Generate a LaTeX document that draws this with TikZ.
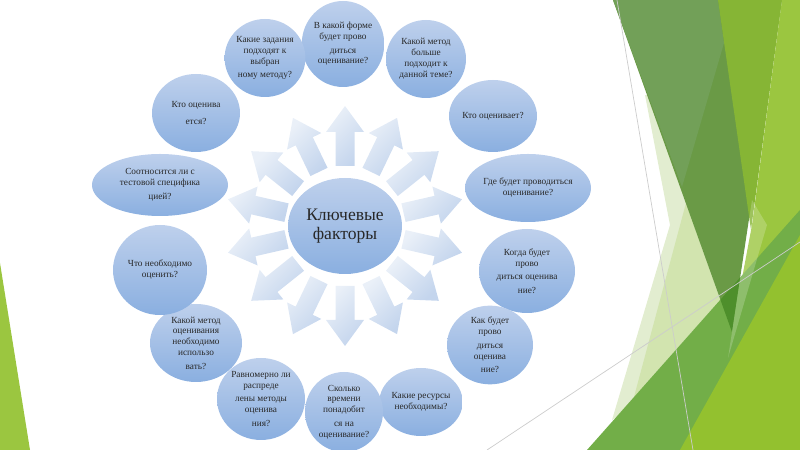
\documentclass[tikz,border=0pt]{standalone}
\usepackage{fontspec}
\setmainfont{Liberation Serif}
\usetikzlibrary{positioning,calc,shapes.geometric}

\definecolor{bubtop}{RGB}{190,208,236}
\definecolor{bubbot}{RGB}{138,175,224}
\definecolor{raytop}{RGB}{234,240,248}
\definecolor{raybot}{RGB}{196,213,237}
\definecolor{txt}{RGB}{40,40,40}
\definecolor{fpale}{RGB}{226,237,208}
\definecolor{fmid}{RGB}{210,228,175}
\definecolor{fdark}{RGB}{106,154,70}
\definecolor{fdarklt}{RGB}{114,160,88}
\definecolor{fyel}{RGB}{134,181,53}
\definecolor{flime}{RGB}{155,198,64}
\definecolor{fgreen}{RGB}{114,174,72}
\definecolor{fdeep}{RGB}{78,143,43}
\definecolor{fbright}{RGB}{147,193,47}

\begin{document}
\begin{tikzpicture}[x=0.2mm, y=-0.2mm,
  ques/.style={ellipse, inner sep=0pt, align=center, text=txt,
               top color=bubtop, bottom color=bubbot,
               font=\fontsize{5.3}{6.2}\selectfont},
  hub/.style={ellipse, inner sep=0pt, align=center, text=txt,
              top color=bubtop, bottom color=bubbot,
              minimum width=22.8mm, minimum height=19.2mm,
              font=\fontsize{10}{10.5}\selectfont},
  ray/.style={top color=raytop, bottom color=raybot, shading angle=45},
  rule/.style={gray!40, line width=0.4pt}]
\useasboundingbox (0,0) rectangle (800,450);
% background facets
\fill[fpale] (645,95) -- (670,225) -- (612,420) -- (740,330) -- (700,100) -- cycle;
\fill[fmid] (686,203) -- (720.4,299.7) -- (634,397) -- cycle;
\fill[fdark] (613,0) -- (782,0) -- (732,332) -- cycle;
\fill[fdarklt] (613,0) -- (718,0) -- (724,43) -- (682,187) -- cycle;
\fill[fyel] (718,0) -- (782,0) -- (751,230) -- cycle;
\fill[flime] (782,0) -- (800,0) -- (800,450) -- (732,332) -- (752,225) -- cycle;
\fill[fgreen] (587,450) -- (800,210) -- (800,450) -- cycle;
\fill[fdeep] (720.4,299.7) -- (740.2,277.4) -- (732,332) -- cycle;
\fill[fbright] (680,450) -- (800,235) -- (800,450) -- cycle;
\fill[white, opacity=0.2] (752,200) -- (767,225) -- (728,358) -- (732,332) -- cycle;
\fill[flime] (0,263) -- (30,450) -- (0,450) -- cycle;
\draw[rule] (617,0) -- (693,450);
\draw[rule] (487,450) -- (800,242);

% centre and rays
\node[hub] (hub) at (345,226) {Ключевые\\факторы};
\foreach \k in {0,...,13}{
  \pgfmathsetmacro\a{\k*360/14-90}
  \shade[ray] ($(hub)+(\a:60)+(\a+90:9.5)$) -- ($(hub)+(\a:94)+(\a+90:9.5)$)
    -- ($(hub)+(\a:94)+(\a+90:19)$) -- ($(hub)+(\a:120)$)
    -- ($(hub)+(\a:94)+(\a-90:19)$) -- ($(hub)+(\a:94)+(\a-90:9.5)$)
    -- ($(hub)+(\a:60)+(\a-90:9.5)$) -- cycle;
}

% questions, clockwise from the top
\node[ques, minimum width=16.4mm, minimum height=17.2mm] (form) at (343,44)
  {В какой форме\\будет прово\\[1.5pt]диться\\оценивание?};
\node[ques, minimum width=16mm, minimum height=15.6mm] (fit) at (426,59)
  {Какой метод\\больше\\подходит к\\данной теме?};
\node[ques, minimum width=17.6mm, minimum height=14.4mm] (who) at (493,116)
  {Кто оценивает?};
\node[ques, minimum width=25.2mm, minimum height=13.6mm] (where) at (528,188)
  {Где будет проводиться\\оценивание?};
\node[ques, minimum width=19.2mm, minimum height=16.8mm] (when) at (527,271)
  {Когда будет\\прово\\[1.5pt]диться оценива\\[1.5pt]ние?};
\node[ques, minimum width=17.2mm, minimum height=15.2mm] (how) at (490,345)
  {Как будет\\прово\\[1.5pt]диться\\оценива\\[1.5pt]ние?};
\node[ques, minimum width=16mm, minimum height=13.6mm] (res) at (421,402)
  {Какие ресурсы\\необходимы?};
\node[ques, minimum width=15.6mm, minimum height=16mm] (time) at (344,412)
  {Сколько\\времени\\понадобит\\[1.5pt]ся на\\оценивание?};
\node[ques, minimum width=17.6mm, minimum height=16.4mm] (even) at (261,399)
  {Равномерно ли\\распреде\\[1.5pt]лены методы\\оценива\\[1.5pt]ния?};
\node[ques, minimum width=18.4mm, minimum height=15.6mm] (meth) at (196,343)
  {Какой метод\\оценивания\\необходимо\\использо\\[1.5pt]вать?};
\node[ques, minimum width=18.8mm, minimum height=18mm] (what) at (160,270)
  {Что необходимо\\оценить?};
\node[ques, minimum width=27.2mm, minimum height=12.4mm] (spec) at (160,185)
  {Соотносится ли с\\тестовой специфика\\[1.5pt]цией?};
\node[ques, minimum width=17.6mm, minimum height=15.6mm] (whom) at (196,113)
  {Кто оценива\\[3pt]ется?};
\node[ques, minimum width=15.6mm, minimum height=15.6mm] (task) at (265,58)
  {Какие задания\\подходят к\\выбран\\[1.5pt]ному методу?};
\end{tikzpicture}
\end{document}
